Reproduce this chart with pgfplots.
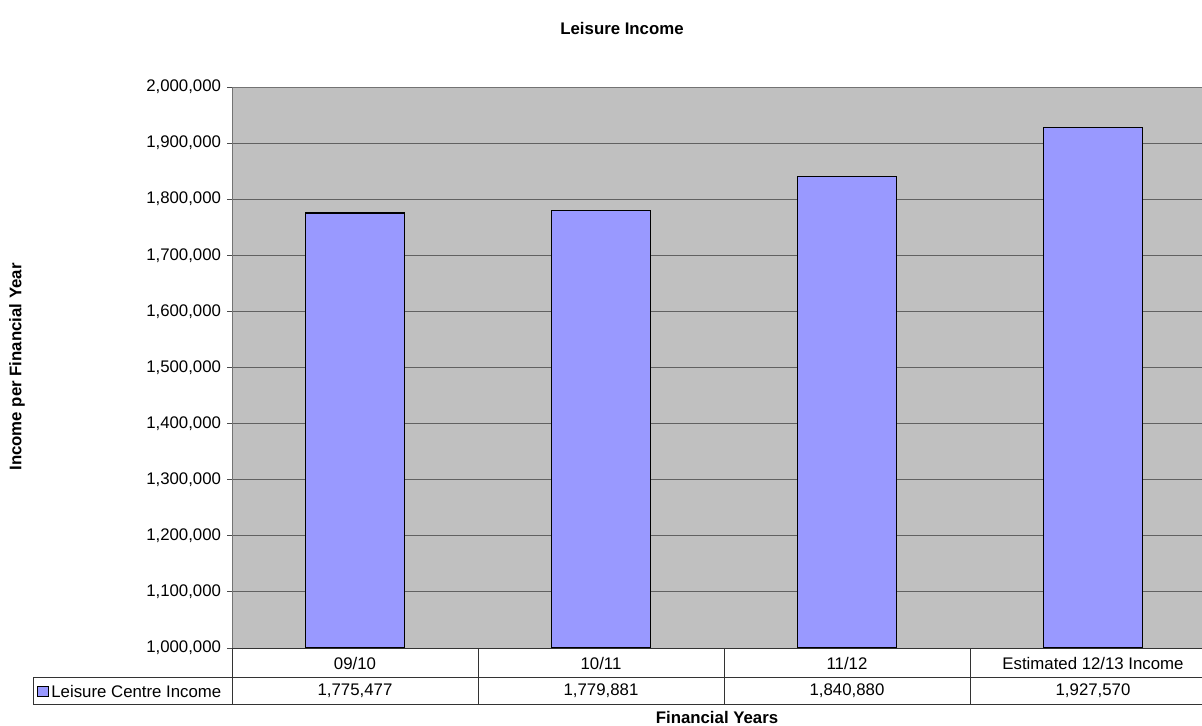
\documentclass[border=0pt]{standalone}
\usepackage{fontspec}
\setmainfont{Liberation Sans}
\usepackage{pgfplots}
\pgfplotsset{compat=1.18}
\definecolor{plotbg}{HTML}{C0C0C0}
\definecolor{barfill}{HTML}{9999FF}
\begin{document}
\fontsize{8.4}{10}\selectfont
\begin{tikzpicture}[x=0.5pt,y=0.5pt]
\useasboundingbox (0,0) rectangle (1202,725);
\begin{scope}
\clip (0,0) rectangle (1202,725);
\begin{axis}[
  at={(232pt*0.5,77pt*0.5)}, anchor=south west,
  scale only axis, width=492pt, height=280.5pt,
  xmin=-0.5, xmax=3.5, ymin=1000000, ymax=2000000,
  xtick=\empty,
  ytick={1000000,1100000,1200000,1300000,1400000,1500000,1600000,1700000,1800000,1900000,2000000},
  scaled y ticks=false,
  yticklabel style={/pgf/number format/.cd, fixed, precision=0, 1000 sep={,}, assume math mode=true},
  ticklabel style={font=\fontsize{8.4}{10}\selectfont},
  ytick pos=left, tick align=outside, major tick length=2.5pt,
  tick style={black!70, line width=0.5pt},
  ymajorgrids, grid style={black!62, line width=0.5pt},
  axis background/.style={fill=plotbg},
  axis line style={black!55, line width=0.5pt},
  clip=true,
]
\addplot[ybar, bar width=49.5pt, fill=barfill, draw=black, line width=0.7pt]
  coordinates {(0,1775477) (1,1779881) (2,1840880) (3,1927570)};
\end{axis}
\end{scope}
% data table
\draw[black!80, line width=0.5pt] (232,77) -- (1202,77);
\draw[black!80, line width=0.5pt] (33,48) -- (1202,48);
\draw[black!80, line width=0.5pt] (33,20.5) -- (1202,20.5);
\draw[black!80, line width=0.5pt] (33,48) -- (33,20.5);
\foreach \xx in {232,478,724,970} \draw[black!80, line width=0.5pt] (\xx,77) -- (\xx,20.5);
\node at (355,62) {09/10};
\node at (601,62) {10/11};
\node at (847,62) {11/12};
\node at (1093,62) {Estimated 12/13 Income};
\node at (355,34) {1,775,477};
\node at (601,34) {1,779,881};
\node at (847,34) {1,840,880};
\node at (1093,34) {1,927,570};
\filldraw[fill=barfill, draw=black, line width=0.5pt] (37.5,28.5) rectangle (48,39);
\node[anchor=west, inner sep=0pt] at (51,34) {Leisure Centre Income};
% titles
\node[font=\bfseries] at (622,697) {Leisure Income};
\node[font=\bfseries] at (717,8) {Financial Years};
\node[font=\bfseries, rotate=90] at (17,358) {Income per Financial Year};
\end{tikzpicture}
\end{document}
